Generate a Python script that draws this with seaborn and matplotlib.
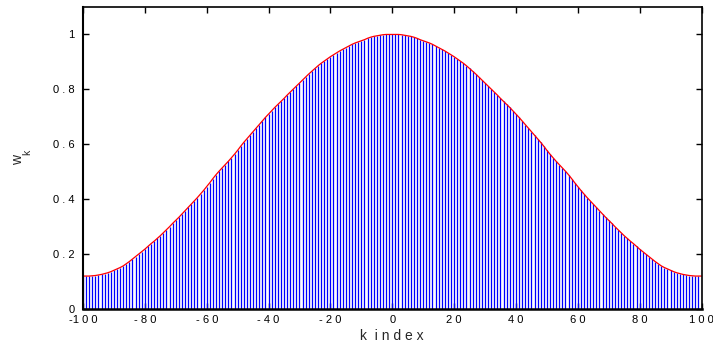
import matplotlib
matplotlib.use("Agg")
import matplotlib.pyplot as plt
import seaborn as sns
import pandas as pd

# k index values (-100 .. 100)
k_values = list(range(-100, 101))

# window weights, k = -100 .. 100
w_values = [
    0.120, 0.120, 0.120, 0.121, 0.122, 0.124, 0.126, 0.129, 0.132, 0.136,
    0.141, 0.146, 0.151, 0.157, 0.165, 0.173, 0.182, 0.191, 0.200, 0.209,
    0.218, 0.228, 0.238, 0.247, 0.257, 0.267, 0.278, 0.289, 0.300, 0.312,
    0.323, 0.334, 0.346, 0.358, 0.370, 0.382, 0.394, 0.406, 0.419, 0.432,
    0.446, 0.460, 0.475, 0.489, 0.502, 0.514, 0.526, 0.538, 0.551, 0.564,
    0.578, 0.593, 0.607, 0.620, 0.633, 0.646, 0.659, 0.672, 0.685, 0.698,
    0.710, 0.722, 0.734, 0.745, 0.756, 0.767, 0.779, 0.790, 0.801, 0.812,
    0.823, 0.834, 0.845, 0.856, 0.866, 0.876, 0.886, 0.895, 0.903, 0.911,
    0.919, 0.926, 0.933, 0.940, 0.946, 0.952, 0.958, 0.964, 0.969, 0.973,
    0.977, 0.981, 0.986, 0.990, 0.993, 0.995, 0.997, 0.999, 1.000, 1.000,
    1.000,
    1.000, 1.000, 0.999, 0.997, 0.995, 0.993, 0.990, 0.986, 0.981, 0.977,
    0.973, 0.969, 0.964, 0.958, 0.952, 0.946, 0.940, 0.933, 0.926, 0.919,
    0.911, 0.903, 0.895, 0.886, 0.876, 0.866, 0.856, 0.845, 0.834, 0.823,
    0.812, 0.801, 0.790, 0.779, 0.767, 0.756, 0.745, 0.734, 0.722, 0.710,
    0.698, 0.685, 0.672, 0.659, 0.646, 0.633, 0.620, 0.607, 0.593, 0.578,
    0.564, 0.551, 0.538, 0.526, 0.514, 0.502, 0.489, 0.475, 0.460, 0.446,
    0.432, 0.419, 0.406, 0.394, 0.382, 0.370, 0.358, 0.346, 0.334, 0.323,
    0.312, 0.300, 0.289, 0.278, 0.267, 0.257, 0.247, 0.238, 0.228, 0.218,
    0.209, 0.200, 0.191, 0.182, 0.173, 0.165, 0.157, 0.151, 0.146, 0.141,
    0.136, 0.132, 0.129, 0.126, 0.124, 0.122, 0.121, 0.120, 0.120, 0.120,
]

x_ticks = [-100, -80, -60, -40, -20, 0, 20, 40, 60, 80, 100]
x_tick_labels = ["-1 0 0", "- 8 0", "- 6 0", "- 4 0", "- 2 0", "0",
                 "2 0", "4 0", "6 0", "8 0", "1 0 0"]
y_ticks = [0, 0.2, 0.4, 0.6, 0.8, 1.0]
y_tick_labels = ["0", "0 . 2", "0 . 4", "0 . 6", "0 . 8", "1"]
x_label = "k  i n d e x"
y_label_main = "w"
y_label_sub = "k"

df = pd.DataFrame({"k": k_values, "w": w_values})

sns.set_style("white")
plt.rcParams["font.family"] = ["Liberation Sans", "DejaVu Sans"]

W, H = 713, 344
fig = plt.figure(figsize=(W / 100, H / 100), dpi=100)
ax = fig.add_axes([83 / W, 1 - 309 / H, (701.5 - 83) / W, (309 - 7) / H])

ax.vlines(df["k"], 0, df["w"], colors="#0000ff", linewidth=0.9)
sns.lineplot(data=df, x="k", y="w", ax=ax, color="#ff0000", linewidth=0.9)

ax.set_xlim(-100, 100)
ax.set_ylim(0, 1.1)
ax.set_xticks(x_ticks)
ax.set_xticklabels(x_tick_labels, fontsize=8)
ax.set_yticks(y_ticks)
ax.set_yticklabels(y_tick_labels, fontsize=8)
ax.tick_params(direction="in", length=4, width=1, top=True, right=True,
               bottom=True, left=True, labeltop=False, labelright=False,
               colors="black")
ax.tick_params(axis="x", pad=4)
ax.tick_params(axis="y", pad=6)
ax.set_xlabel("")
ax.set_ylabel("")

fig.text(392 / W, 1 - 336 / H, x_label, fontsize=10, ha="center", va="center")
fig.text(18 / W, 1 - 160 / H, y_label_main, fontsize=10, rotation=90,
         ha="center", va="center")
fig.text(27 / W, 1 - 152 / H, y_label_sub, fontsize=7.5, rotation=90,
         ha="center", va="center")

for side, sp in ax.spines.items():
    sp.set_visible(True)
    sp.set_color("black")
    sp.set_linewidth(1.2)
ax.spines["bottom"].set_linewidth(1.8)
ax.spines["left"].set_linewidth(1.5)

fig.savefig("out.png", dpi=100)
